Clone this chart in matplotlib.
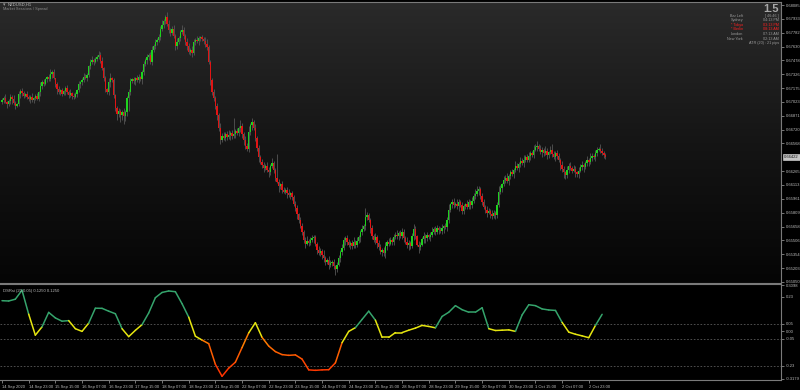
import numpy as np
import matplotlib
matplotlib.use("Agg")
import matplotlib.pyplot as plt
from matplotlib import font_manager
from matplotlib.collections import LineCollection
from matplotlib.colors import LinearSegmentedColormap

# NZDUSD H1 closes, in pips (0.0001)
close_pips = [
    6704, 6707, 6702, 6700, 6703, 6708, 6705, 6701, 6698, 6700,
    6711, 6714, 6712, 6709, 6711, 6708, 6705, 6708, 6704, 6707, 6709, 6705, 6713,
    6720, 6724, 6722, 6727, 6730, 6727, 6733, 6735, 6728, 6722, 6716,
    6713, 6715, 6711, 6714, 6718, 6713, 6710, 6712, 6709, 6708, 6711,
    6715, 6722, 6724, 6726, 6730, 6728, 6732, 6742, 6746, 6748, 6746, 6749, 6752, 6754,
    6747, 6739, 6728, 6717, 6713, 6724, 6728, 6726, 6710, 6696, 6689, 6692, 6688, 6691, 6687, 6691,
    6707, 6713, 6725, 6727, 6725, 6728, 6726, 6730, 6727, 6735, 6744, 6748, 6751, 6754, 6746, 6759,
    6764, 6768, 6770, 6773, 6782, 6787, 6791, 6795,
    6788, 6781, 6778, 6782, 6775, 6764, 6768, 6772, 6779, 6781, 6775, 6768, 6764, 6757, 6759, 6756,
    6768, 6770, 6769, 6772, 6773, 6771, 6769, 6766, 6762,
    6746, 6726, 6713, 6707, 6698, 6688, 6674, 6661,
    6665, 6663, 6667, 6664, 6666, 6668, 6665, 6667, 6670, 6668, 6674, 6676, 6667, 6661, 6654, 6651,
    6669, 6677, 6680, 6674, 6663, 6652, 6642,
    6636, 6633, 6630, 6632, 6628, 6625, 6632, 6635, 6628, 6619, 6615, 6610, 6612, 6606, 6604, 6606,
    6602, 6600, 6602, 6598, 6590, 6586, 6579, 6573,
    6566, 6560, 6551, 6547, 6550, 6548, 6551, 6553, 6554, 6547, 6540, 6537, 6539, 6535, 6531, 6527,
    6529, 6524, 6526, 6527, 6522, 6519, 6524,
    6531, 6538, 6542, 6551, 6553, 6549, 6545, 6548, 6544, 6549, 6546, 6550, 6554, 6560, 6563, 6566, 6576,
    6578, 6573, 6564, 6555, 6551, 6554, 6548, 6543, 6538, 6540, 6537, 6544, 6549, 6547, 6551, 6549,
    6554, 6557, 6555, 6559, 6555, 6560, 6553, 6549, 6545, 6548, 6544, 6555, 6563, 6555, 6546, 6543,
    6546, 6552, 6555, 6553, 6556, 6554, 6557, 6560, 6563, 6560, 6564, 6562, 6561, 6564, 6566, 6565,
    6573, 6584, 6590, 6593, 6589, 6591, 6588, 6593, 6589, 6583, 6588, 6590, 6587, 6593, 6589, 6594,
    6599, 6601, 6605, 6607, 6599, 6593, 6587, 6584, 6581, 6583, 6579, 6577, 6581, 6578, 6589, 6604,
    6608, 6612, 6617, 6619, 6616, 6621, 6625, 6623, 6628, 6632, 6630, 6634, 6638, 6635, 6639, 6642,
    6639, 6643, 6646, 6644, 6650, 6653, 6654, 6651, 6647, 6650, 6646, 6649, 6644, 6647, 6650, 6645,
    6642, 6646, 6643, 6639, 6633, 6629, 6625, 6622, 6628, 6632, 6630, 6627, 6629, 6625, 6623, 6627,
    6631, 6633, 6631, 6635, 6639, 6636, 6641, 6643, 6642, 6646, 6650, 6651, 6649, 6646, 6644, 6642,
]
first_open = 6702

# wick length beyond the body, pips
upper_wick = [
    3, 2, 4, 1, 2, 3, 2, 5, 2, 1, 3, 2, 4, 2, 1, 3, 2, 2, 4, 1,
    2, 3, 1, 4, 2, 3, 2, 1, 3, 5, 2, 3, 1, 2, 4, 2, 3, 1, 2, 3,
    2, 4, 1, 3, 2, 2, 3, 1, 2, 4, 3, 2, 1, 3, 5, 2, 3, 2, 4, 3,
    5, 2, 3, 1, 4, 6, 2, 3, 1, 2, 4, 3, 2, 5, 3, 2, 4, 3, 2, 3,
    2, 4, 3, 1, 2, 3, 2, 4, 2, 3, 5, 2, 3, 2, 4, 3, 5, 2, 3, 6,
    4, 2, 3, 5, 2, 4, 3, 2, 6, 3, 2, 4, 3, 2, 5, 3, 2, 4, 3, 2,
    3, 2, 4, 5, 3, 2, 3, 4, 2, 3, 2, 5, 3, 4, 2, 3, 6, 2, 3, 18,
    3, 4, 2, 6, 3, 2, 4, 3, 7, 2, 5, 3, 4, 2, 3, 2, 4, 3, 2, 5,
    3, 2, 6, 3, 2, 26, 3, 2, 4, 3, 2, 3, 5, 2, 3, 2, 4, 3, 2, 3,
    4, 2, 3, 5, 2, 3, 4, 2, 3, 2, 4, 3, 2, 5, 3, 2, 4, 3, 2, 3,
    2, 3, 4, 2, 5, 3, 2, 4, 3, 2, 3, 5, 2, 4, 3, 2, 5, 3, 10, 4,
    3, 2, 4, 3, 5, 2, 3, 4, 2, 3, 5, 2, 4, 3, 2, 4, 3, 5, 2, 3,
    4, 3, 2, 5, 3, 2, 4, 6, 3, 2, 4, 3, 2, 5, 3, 4, 2, 3, 5, 2,
    3, 4, 2, 3, 5, 2, 4, 3, 6, 2, 3, 4, 2, 5, 3, 2, 4, 3, 2, 5,
    3, 2, 4, 3, 6, 5, 3, 2, 4, 3, 2, 4, 3, 2, 5, 3, 2, 4, 6, 3,
    2, 4, 3, 5, 2, 3, 4, 2, 6, 3, 2, 4, 3, 5, 2, 3, 4, 2, 3, 5,
    3, 6, 2, 4, 3, 2, 5, 3, 2, 4, 6, 3, 2, 4, 3, 2, 5, 3, 2, 4,
    3, 5, 2, 4, 3, 2, 4, 3, 5, 2, 3, 4, 2, 5, 3, 2, 4, 3, 2, 5,
    3, 2, 2,
]
lower_wick = [
    2, 3, 1, 4, 2, 3, 5, 2, 3, 1, 2, 4, 3, 2, 1, 3, 2, 4, 2, 3,
    3, 1, 2, 4, 3, 2, 1, 3, 2, 2, 4, 1, 3, 5, 2, 3, 2, 1, 4, 2,
    3, 2, 4, 2, 1, 3, 2, 4, 3, 2, 1, 3, 2, 4, 2, 3, 1, 2, 3, 2,
    2, 3, 4, 2, 3, 5, 2, 3, 4, 6, 3, 8, 5, 9, 6, 4, 15, 3, 2, 3,
    4, 2, 3, 2, 5, 3, 2, 4, 3, 2, 3, 2, 4, 3, 2, 3, 2, 4, 3, 2,
    3, 4, 2, 3, 5, 4, 2, 3, 2, 4, 3, 5, 2, 3, 4, 2, 3, 2, 4, 3,
    2, 3, 4, 3, 2, 5, 3, 4, 3, 6, 4, 5, 3, 2, 4, 3, 2, 5, 3, 2,
    4, 2, 3, 5, 4, 6, 3, 2, 4, 3, 5, 2, 4, 3, 6, 2, 3, 4, 2, 3,
    5, 3, 2, 4, 3, 2, 6, 3, 4, 2, 3, 5, 2, 4, 3, 2, 3, 5, 3, 2,
    4, 3, 5, 2, 4, 3, 2, 5, 3, 4, 2, 3, 5, 4, 3, 2, 5, 3, 4, 3,
    6, 3, 2, 4, 3, 2, 5, 3, 2, 4, 3, 2, 4, 3, 2, 5, 3, 2, 4, 3,
    2, 5, 3, 2, 4, 6, 3, 2, 5, 3, 6, 4, 3, 2, 4, 3, 2, 3, 4, 2,
    3, 4, 2, 3, 5, 3, 2, 4, 3, 2, 6, 3, 2, 4, 5, 3, 2, 4, 3, 2,
    3, 2, 4, 2, 3, 5, 2, 4, 3, 2, 4, 3, 2, 3, 5, 2, 3, 4, 3, 2,
    2, 4, 3, 2, 3, 2, 5, 3, 4, 2, 3, 5, 2, 4, 3, 2, 4, 3, 2, 3,
    4, 2, 3, 2, 5, 3, 2, 4, 3, 2, 5, 3, 2, 4, 3, 2, 3, 4, 2, 3,
    2, 4, 3, 2, 5, 3, 2, 4, 3, 2, 3, 2, 4, 3, 2, 5, 3, 6, 4, 3,
    4, 2, 3, 2, 5, 3, 4, 2, 3, 5, 2, 3, 4, 2, 3, 2, 4, 3, 2, 3,
    2, 3, 2,
]

# oscillator, one reading every 4 bars
osc_values = [
    0.205, 0.203, 0.215, 0.275, 0.115, -0.025, 0.030, 0.127, 0.090, 0.068,
    0.072, 0.018, 0.000, 0.055, 0.155, 0.154, 0.135, 0.118, 0.018, -0.035,
    0.007, 0.045, 0.123, 0.225, 0.260, 0.270, 0.265, 0.185, 0.095, -0.032,
    -0.058, -0.082, -0.220, -0.300, -0.245, -0.206, -0.108, -0.010, 0.058, -0.040,
    -0.098, -0.135, -0.155, -0.160, -0.157, -0.185, -0.257, -0.260, -0.257, -0.256,
    -0.210, -0.075, 0.000, 0.025, 0.080, 0.135, 0.075, -0.040, -0.040, -0.008,
    -0.008, 0.008, 0.022, 0.040, 0.033, 0.024, 0.100, 0.128, 0.172, 0.145,
    0.128, 0.128, 0.158, 0.018, 0.006, 0.008, 0.010, 0.000, 0.110, 0.178,
    0.172, 0.150, 0.143, 0.140, 0.060, -0.005, -0.019, -0.030, -0.042, 0.040,
    0.114,
]
osc_step = 4
osc_levels = [0.05, -0.05, -0.23]
osc_ticks = [0.3098, 0.23, 0.05, 0.0, -0.05, -0.23, -0.3179]
osc_tick_labels = ['0.3098', '0.23', '0.05', '0.00', '-0.05', '-0.23', '-0.3179']
osc_title = 'DSRsi (20,0.05) 0.1250 0.1250'

price_ticks = [0.68085, 0.67933, 0.67782, 0.67630, 0.67478, 0.67326, 0.67175,
               0.67023, 0.66871, 0.66720, 0.66568, 0.66265, 0.66113, 0.65961,
               0.65809, 0.65658, 0.65506, 0.65354, 0.65203, 0.65050]
last_price = 0.66422

date_labels = ['14 Sep 2020', '14 Sep 23:00', '15 Sep 15:00', '16 Sep 07:00',
               '16 Sep 23:00', '17 Sep 15:00', '18 Sep 07:00', '18 Sep 23:00',
               '21 Sep 15:00', '22 Sep 07:00', '22 Sep 23:00', '23 Sep 15:00',
               '24 Sep 07:00', '24 Sep 23:00', '25 Sep 15:00', '28 Sep 07:00',
               '28 Sep 23:00', '29 Sep 15:00', '30 Sep 07:00', '30 Sep 23:00',
               '1 Oct 15:00', '2 Oct 07:00', '2 Oct 23:00']
label_every = 16

info_names = ['Bar Left', 'Sydney', '* Tokyo', '* Berlin', 'London', 'New York']
info_values = ['[ 46:46 ]', '04:13 PM', '03:13 PM', '08:13 AM', '07:13 AM', '02:13 AM']
info_active = [False, False, True, True, False, False]
spread_text = '1.5'
atr_text = 'ATR (20) : 21 pips'
symbol_text = 'NZDUSD,H1'
subtitle_text = 'Market Sessions / Spread'

names = {f.name for f in font_manager.fontManager.ttflist}
small_font = 'Liberation Sans Narrow' if 'Liberation Sans Narrow' in names else 'Liberation Sans'
plt.rcParams['font.family'] = [small_font, 'DejaVu Sans']

W, H = 800, 390
fig = plt.figure(figsize=(W / 100, H / 100), dpi=100, facecolor='black')


def fx(px):
    return px / W


def fy(py):
    return 1 - py / H


ax = fig.add_axes([0, fy(283), fx(781), (283 - 2) / H])
ax2 = fig.add_axes([0, fy(380), fx(781), (380 - 284) / H])

xlim = (-1.2, 467.3)
ylim = (0.65039, 0.68118)

# candles
close = np.array(close_pips) / 1e4
n = len(close)
x = np.arange(n)
opens = np.r_[first_open / 1e4, close[:-1]]
hi = np.maximum(opens, close) + np.array(upper_wick) / 1e4
lo = np.minimum(opens, close) - np.array(lower_wick) / 1e4

grad = np.linspace(0, 1, 256).reshape(-1, 1)
bg = LinearSegmentedColormap.from_list('bg', ['#2a2a2a', '#151515', '#050505'])
ax.imshow(grad, extent=[xlim[0], xlim[1], ylim[0], ylim[1]], aspect='auto',
          cmap=bg, zorder=0, interpolation='bilinear')

ax.vlines(x, lo, hi, color='#555555', lw=0.6, zorder=2)
body_col = np.where(close >= opens, '#1ed21e', '#e01414')
body_h = np.maximum(np.abs(close - opens), 0.00003)
ax.bar(x, body_h, bottom=np.minimum(opens, close), width=0.85,
       color=body_col, linewidth=0, zorder=3)

ax.set_xlim(*xlim)
ax.set_ylim(*ylim)
ax.set_xticks([])
ax.yaxis.tick_right()
ax.set_yticks(price_ticks)
ax.set_yticklabels([f'{v:.5f}' for v in price_ticks])
ax.tick_params(axis='y', colors='#8a8a8a', labelcolor='#bdbdbd',
               labelsize=3.0, length=2.5, width=0.6, pad=1)
for s in ['left']:
    ax.spines[s].set_visible(False)
for s in ['top', 'right', 'bottom']:
    ax.spines[s].set_color('#7a7a7a')
    ax.spines[s].set_linewidth(0.8)

ax.annotate(f'{last_price:.5f}', xy=(1, last_price), xycoords=('axes fraction', 'data'),
            xytext=(3, 0), textcoords='offset pixels', va='center', ha='left',
            fontsize=3.0, color='#111111', annotation_clip=False,
            bbox=dict(boxstyle='square,pad=0.25', fc='#c4c4c4', ec='#e0e0e0', lw=0.4))

# oscillator
ax2.set_facecolor('black')
ox = np.arange(len(osc_values)) * osc_step
oy = np.array(osc_values)
segs = np.stack([np.column_stack([ox[:-1], oy[:-1]]),
                 np.column_stack([ox[1:], oy[1:]])], axis=1)
mid = (oy[:-1] + oy[1:]) / 2
red_map = LinearSegmentedColormap.from_list('dn', ['#ff2a00', '#ff8000'])
seg_col = []
for m in mid:
    if m > osc_levels[0]:
        seg_col.append('#35a46c')
    elif m >= osc_levels[1]:
        seg_col.append('#e6e610')
    else:
        seg_col.append(red_map(np.clip((m + 0.3) / 0.25, 0, 1)))
ax2.add_collection(LineCollection(segs, colors=seg_col, linewidths=1.1, capstyle='round', zorder=3))
for lv in osc_levels:
    ax2.axhline(lv, color='#5a5a5a', lw=0.6, ls=(0, (2, 2)), zorder=1)

ax2.set_xlim(*xlim)
ax2.set_ylim(-0.3246, 0.3165)
ax2.yaxis.tick_right()
ax2.set_yticks(osc_ticks)
ax2.set_yticklabels(osc_tick_labels)
ax2.tick_params(axis='y', colors='#8a8a8a', labelcolor='#bdbdbd',
                labelsize=3.0, length=2.5, width=0.6, pad=1)
ax2.set_xticks(np.arange(len(date_labels)) * label_every)
ax2.set_xticklabels(date_labels, ha='left')
ax2.tick_params(axis='x', colors='#8a8a8a', labelcolor='#bdbdbd',
                labelsize=3.0, length=2.5, width=0.6, pad=1)
ax2.spines['left'].set_visible(False)
for s in ['top', 'right', 'bottom']:
    ax2.spines[s].set_color('#7a7a7a')
    ax2.spines[s].set_linewidth(0.8)
ax2.text(0.004, 0.95, osc_title, transform=ax2.transAxes, fontsize=3.0,
         color='#bdbdbd', va='top', ha='left')

# header texts
fig.text(fx(3), fy(4.5), '\u25be', fontsize=3.5, color='#9a9a9a', va='center', ha='left')
fig.text(fx(8), fy(4.5), symbol_text, fontsize=3.0, color='#bdbdbd', va='center', ha='left')
fig.text(fx(3), fy(9), subtitle_text, fontsize=2.8, color='#8a8a8a', va='center', ha='left')

fig.text(fx(779), fy(8.5), spread_text, fontsize=8, weight='bold', color='#a8a8a8',
         va='center', ha='right')
for i, (nm, val, act) in enumerate(zip(info_names, info_values, info_active)):
    yy = 15.7 + i * 4.6
    col = '#ff2020' if act else '#9a9a9a'
    fig.text(fx(743), fy(yy), nm, fontsize=2.7, color=col, va='center', ha='right')
    fig.text(fx(779), fy(yy), val, fontsize=2.7, color=col, va='center', ha='right')
fig.text(fx(779), fy(43.3), atr_text, fontsize=2.7, color='#9a9a9a', va='center', ha='right')

fig.savefig('out.png', dpi=100, facecolor='black')
